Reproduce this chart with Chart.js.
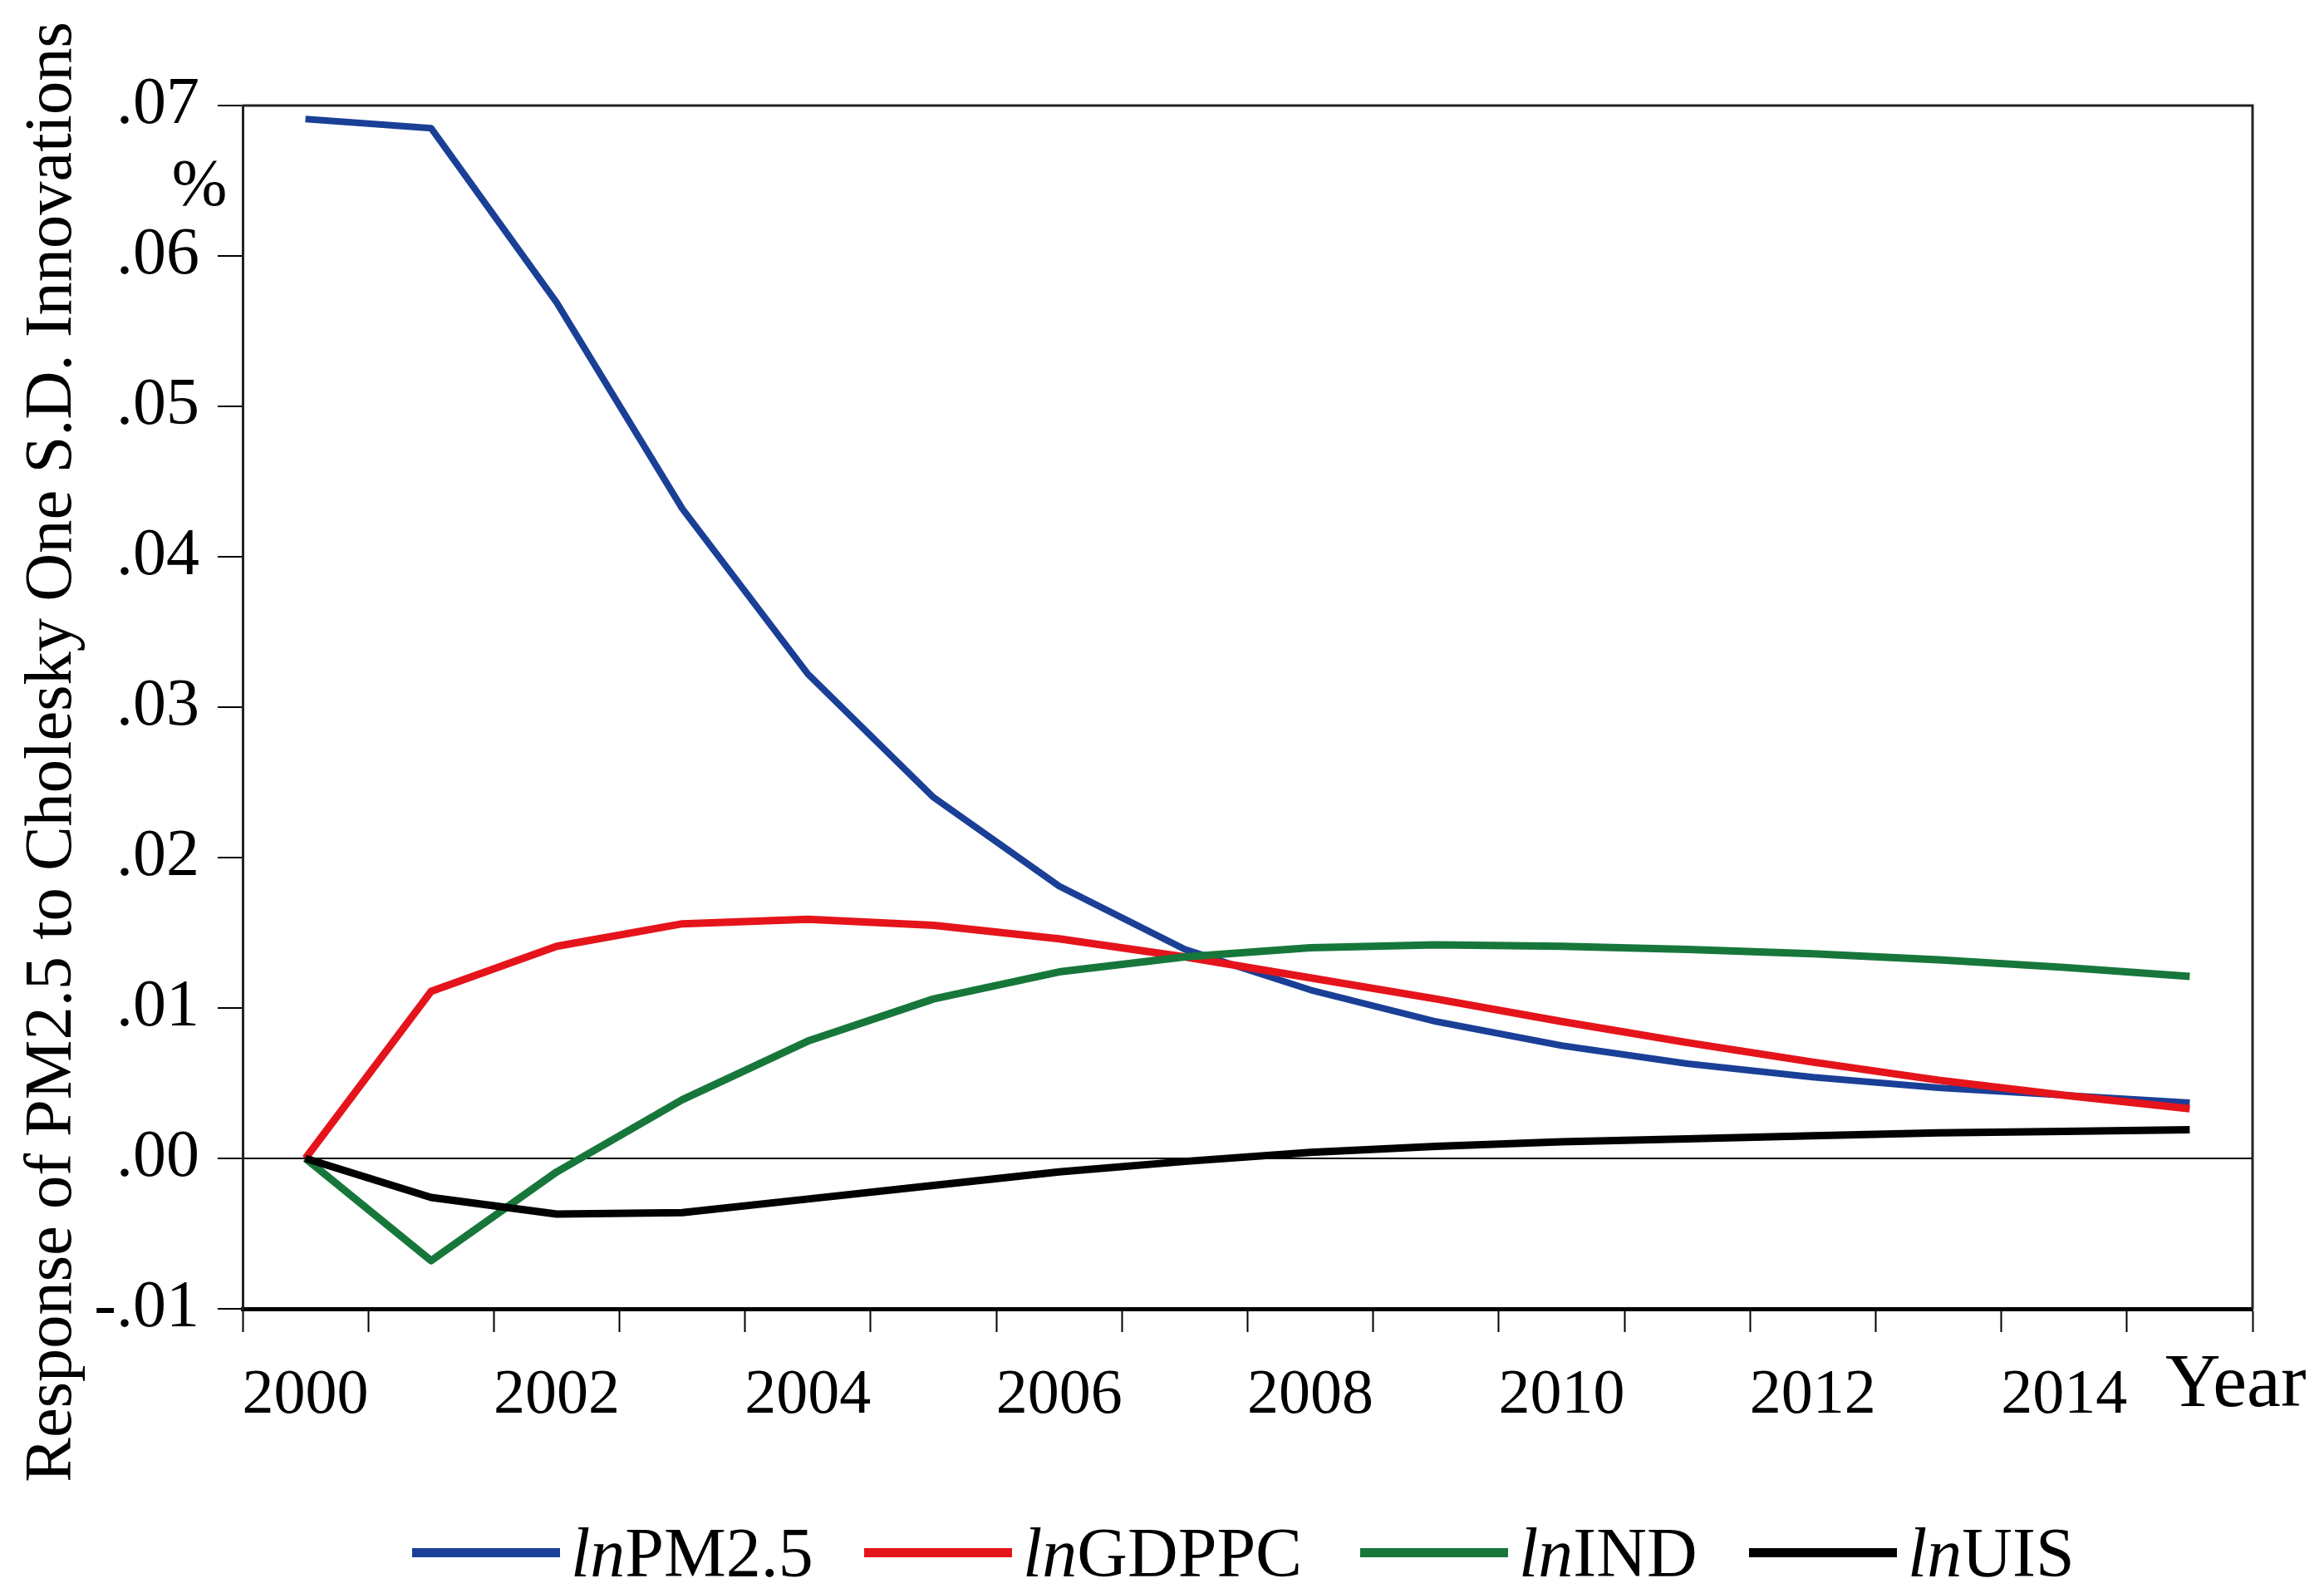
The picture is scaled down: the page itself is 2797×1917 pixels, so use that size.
<!DOCTYPE html>
<html>
<head>
<meta charset="utf-8">
<script src="https://cdn.jsdelivr.net/npm/chart.js@4"></script>
<style>
  html, body { margin: 0; padding: 0; background: #fff; }
  #wrap { position: relative; width: 2797px; height: 1917px; }
  #c { position: absolute; left: 0; top: 0; }
  .lg { position: absolute; top: 1818px; height: 100px; display: flex; align-items: center;
        font-family: "Liberation Serif", "Times New Roman", serif; font-size: 84px; color: #000; white-space: nowrap; }
  .lg .sw { display: inline-block; width: 178px; height: 11px; margin-right: 13px; }
</style>
</head>
<body>
<div id="wrap">
  <canvas id="c" width="2797" height="1917" style="width:2797px;height:1917px"></canvas>
  <div class="lg" style="left:496px"><span class="sw" style="background:#1a3f96"></span><span><i>ln</i>PM2.5</span></div>
  <div class="lg" style="left:1040px"><span class="sw" style="background:#e5141b"></span><span><i>ln</i>GDPPC</span></div>
  <div class="lg" style="left:1637px"><span class="sw" style="background:#17773b"></span><span><i>ln</i>IND</span></div>
  <div class="lg" style="left:2105px"><span class="sw" style="background:#000000"></span><span><i>ln</i>UIS</span></div>
</div>
<script>
const years = ["2000","2001","2002","2003","2004","2005","2006","2007","2008","2009","2010","2011","2012","2013","2014","2015"];
const lnPM25 = [0.0691, 0.0685, 0.0569, 0.0432, 0.0322, 0.0240, 0.0181, 0.0139, 0.0112, 0.0091, 0.0075, 0.0063, 0.0054, 0.0047, 0.0042, 0.0037];
const lnGDPPC = [0.0000, 0.0111, 0.0141, 0.0156, 0.0159, 0.0155, 0.0146, 0.0134, 0.0120, 0.0106, 0.0091, 0.0077, 0.0064, 0.0052, 0.0042, 0.0033];
const lnIND = [0.0000, -0.0068, -0.0009, 0.0039, 0.0078, 0.0106, 0.0124, 0.0134, 0.0140, 0.0142, 0.0141, 0.0139, 0.0136, 0.0132, 0.0127, 0.0121];
const lnUIS = [0.0000, -0.0026, -0.0037, -0.0036, -0.0027, -0.0018, -0.0009, -0.0002, 0.0004, 0.0008, 0.0011, 0.0013, 0.0015, 0.0017, 0.0018, 0.0019];
const yTicks = [-0.01, 0.00, 0.01, 0.02, 0.03, 0.04, 0.05, 0.06, 0.07];
const yTitle = "Response of PM2.5 to Cholesky One S.D. Innovations";
const yUnit = "%";
const xTitle = "Year";

const FONT = '"Liberation Serif", "Times New Roman", serif';

function fmt(v) {
  const a = Math.round(Math.abs(v) * 100);
  return (v < -1e-9 ? '-' : '') + '.' + String(a).padStart(2, '0');
}

const decor = {
  id: 'decor',
  afterDraw(chart) {
    const ctx = chart.ctx, a = chart.chartArea;
    ctx.save();
    ctx.strokeStyle = '#222';
    ctx.lineWidth = 3;
    ctx.beginPath();
    ctx.moveTo(a.left, a.top);
    ctx.lineTo(a.right, a.top);
    ctx.lineTo(a.right, a.bottom);
    ctx.stroke();
    ctx.fillStyle = '#000';
    // y title
    ctx.font = '80.5px ' + FONT;
    ctx.textAlign = 'center';
    ctx.textBaseline = 'middle';
    ctx.translate(64, 905);
    ctx.rotate(-Math.PI / 2);
    ctx.fillText(yTitle, 0, 0);
    ctx.restore();
    ctx.save();
    ctx.fillStyle = '#000';
    ctx.font = '80px ' + FONT;
    ctx.textAlign = 'center';
    ctx.textBaseline = 'middle';
    ctx.fillText(yUnit, 240, 226);
    ctx.font = '92px ' + FONT;
    ctx.textAlign = 'left';
    ctx.fillText(xTitle, 2606, 1668);
    ctx.restore();
  }
};

new Chart(document.getElementById('c'), {
  type: 'line',
  data: {
    labels: years,
    datasets: [
      { label: 'lnPM2.5', data: lnPM25, borderColor: '#1a3f96', borderWidth: 8, order: 3 },
      { label: 'lnGDPPC', data: lnGDPPC, borderColor: '#e5141b', borderWidth: 9, order: 2 },
      { label: 'lnIND', data: lnIND, borderColor: '#17773b', borderWidth: 9, order: 1 },
      { label: 'lnUIS', data: lnUIS, borderColor: '#000000', borderWidth: 9, order: 0 }
    ]
  },
  options: {
    responsive: false,
    devicePixelRatio: 1,
    animation: false,
    elements: { point: { radius: 0 }, line: { tension: 0, borderJoinStyle: 'round', fill: false } },
    layout: { padding: { left: 0, top: 127, right: 86, bottom: 0 } },
    plugins: { legend: { display: false }, title: { display: false }, tooltip: { enabled: false } },
    scales: {
      x: {
        type: 'category',
        offset: true,
        grid: { offset: true, drawOnChartArea: false, tickLength: 28, tickColor: '#000', tickWidth: 2 },
        border: { display: true, color: '#000', width: 5 },
        ticks: {
          autoSkip: false, maxRotation: 0, minRotation: 0, padding: 31,
          color: '#000', font: { family: FONT, size: 76 },
          callback: function(val, i) { const y = years[i]; return (parseInt(y) % 2 === 0) ? y : ''; }
        },
        afterFit(s) { s.height = 342; }
      },
      y: {
        min: -0.01, max: 0.07,
        afterBuildTicks(s) { s.ticks = yTicks.map(v => ({ value: v })); },
        grid: {
          drawOnChartArea: true, tickLength: 30, tickColor: '#000', tickWidth: 2,
          color: c => (c.tick && Math.abs(c.tick.value) < 1e-9) ? '#000' : 'rgba(0,0,0,0)',
          lineWidth: 2
        },
        border: { display: true, color: '#222', width: 3 },
        ticks: { padding: 22, color: '#000', font: { family: FONT, size: 80 }, callback: v => fmt(v) },
        afterFit(s) { s.width = 292; }
      }
    }
  },
  plugins: [decor]
});
</script>
</body>
</html>
